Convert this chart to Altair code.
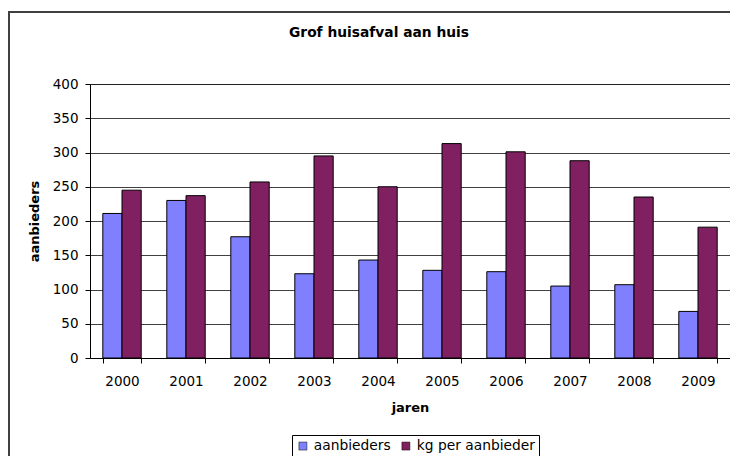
import altair as alt
import pandas as pd

jaren = ["2000", "2001", "2002", "2003", "2004", "2005", "2006", "2007", "2008", "2009"]
aanbieders = [211, 230, 177, 123, 143, 128, 126, 105, 107, 68]
kg_per_aanbieder = [245, 237, 257, 295, 250, 313, 301, 288, 235, 191]
reeksen = ["aanbieders", "kg per aanbieder"]
kleuren = ["#8080FF", "#802060"]
y_ticks = [0, 50, 100, 150, 200, 250, 300, 350, 400]

rows = []
for j, a, k in zip(jaren, aanbieders, kg_per_aanbieder):
    rows.append({"jaar": j, "reeks": reeksen[0], "waarde": a})
    rows.append({"jaar": j, "reeks": reeksen[1], "waarde": k})
df = pd.DataFrame(rows)

FONT = "DejaVu Sans"

bars = alt.Chart(df).mark_bar(stroke="black", strokeWidth=1).encode(
    x=alt.X("jaar:N", sort=jaren,
            scale=alt.Scale(paddingInner=0.4, paddingOuter=0.2),
            axis=alt.Axis(title="jaren", labelAngle=0, tickBand="extent",
                          tickSize=5, labelPadding=11, titlePadding=14,
                          domainColor="black", tickColor="black")),
    xOffset=alt.XOffset("reeks:N", sort=reeksen),
    y=alt.Y("waarde:Q", scale=alt.Scale(domain=[0, 400], nice=False),
            axis=alt.Axis(title="aanbieders", values=y_ticks, tickSize=5,
                          labelPadding=7, titlePadding=11, grid=True,
                          gridColor="black", gridOpacity=0.75,
                          domainColor="black", tickColor="black")),
    color=alt.Color("reeks:N", sort=reeksen,
                    scale=alt.Scale(domain=reeksen, range=kleuren),
                    legend=alt.Legend(title=None, orient="none", direction="horizontal",
                                      legendX=202, legendY=351,
                                      symbolType="square", symbolSize=64,
                                      symbolStrokeColor="black", symbolStrokeWidth=0.5,
                                      labelFontSize=13.8, labelFont=FONT, labelColor="black",
                                      columnPadding=8, labelOffset=4,
                                      strokeColor="black", fillColor="white",
                                      padding=4, cornerRadius=0)),
)

frame = alt.Chart(pd.DataFrame({"a": [0]})).mark_rect(
    fill=None, stroke="#404040", strokeWidth=2
).encode(x=alt.value(-81), x2=alt.value(800), y=alt.value(-72), y2=alt.value(600))

title = alt.Chart(pd.DataFrame({"t": ["Grof huisafval aan huis"]})).mark_text(
    font=FONT, fontSize=13.8, fontWeight="bold", color="black", baseline="middle"
).encode(text="t:N", x=alt.value(289), y=alt.value(-51))

chart = alt.layer(frame, title, bars).properties(
    width=640, height=274,
    autosize=alt.AutoSizeParams(type="none"),
    padding={"left": 82, "top": 76, "right": 0, "bottom": 98},
    background="white",
).configure_view(stroke="#808080", strokeWidth=1).configure_axis(
    labelFont=FONT, labelFontSize=13.5, labelColor="black",
    titleFont=FONT, titleFontSize=13, titleFontWeight="bold", titleColor="black",
)

chart.save("out.html", embed_options={"renderer": "svg", "actions": False})
